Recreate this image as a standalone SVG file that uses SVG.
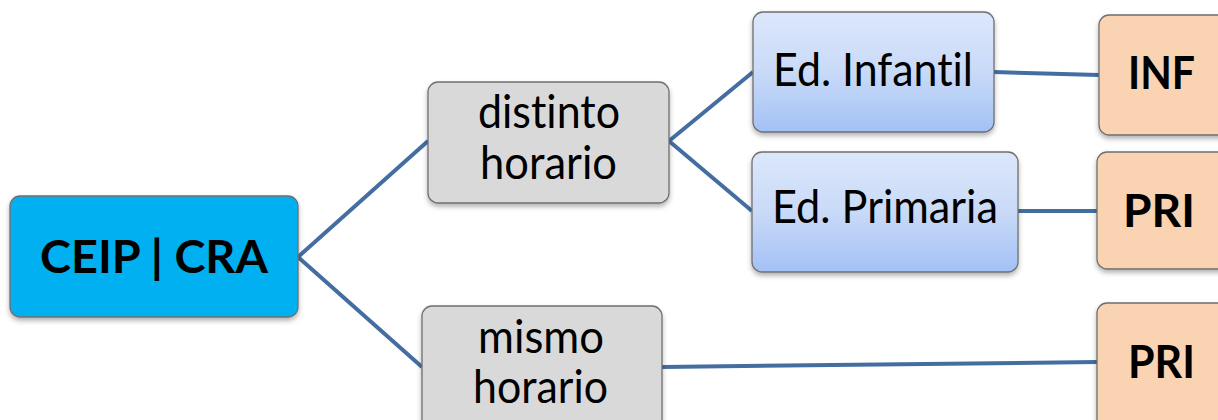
<svg xmlns="http://www.w3.org/2000/svg" width="1218" height="420" viewBox="0 0 1218 420">
<defs>
<linearGradient id="gBlue" x1="0" y1="0" x2="0" y2="1">
<stop offset="0" stop-color="#DCE7FB"/>
<stop offset="0.5" stop-color="#C9DAF8"/>
<stop offset="1" stop-color="#A3C1F5"/>
</linearGradient>
<filter id="sh" x="-10%" y="-10%" width="120%" height="130%">
<feDropShadow dx="0" dy="3" stdDeviation="2.5" flood-color="#000" flood-opacity="0.3"/>
</filter>
</defs>
<style>
.box{stroke:#6F6F6F;stroke-width:1.3;filter:url(#sh)}
.main{fill:#00B0F0}
.grey{fill:#D9D9D9}
.blue{fill:url(#gBlue)}
.orange{fill:#FAD3B2}
.t{font-family:Lato,"Open Sans","Liberation Sans",sans-serif;font-size:46px;fill:#000;text-anchor:middle;font-variant-ligatures:none;font-feature-settings:"liga" 0,"clig" 0}
.b{font-weight:bold}
.con{stroke:#446DA2;stroke-width:4;fill:none;stroke-linecap:butt}
</style>
<rect width="1218" height="420" fill="#FFFFFF"/>
<g id="connectors">
<line class="con" x1="298" y1="257" x2="428" y2="141"/>
<line class="con" x1="298" y1="257" x2="422" y2="367"/>
<line class="con" x1="669" y1="141" x2="753" y2="72"/>
<line class="con" x1="669" y1="141" x2="752" y2="211"/>
<line class="con" x1="994" y1="72" x2="1099" y2="75"/>
<line class="con" x1="1018" y1="211" x2="1097" y2="211"/>
<line class="con" x1="662" y1="367" x2="1097" y2="362"/>
</g>
<g id="ceip">
<rect class="box main" x="10" y="196" width="288" height="121" rx="10"/>
<text class="t b" x="154" y="273" textLength="228" lengthAdjust="spacingAndGlyphs">CEIP | CRA</text>
</g>
<g id="distinto">
<rect class="box grey" x="428" y="82" width="241" height="121" rx="10"/>
<text class="t" x="549" y="128" textLength="142" lengthAdjust="spacingAndGlyphs">distinto</text>
<text class="t" x="548.5" y="179" textLength="137" lengthAdjust="spacingAndGlyphs">horario</text>
</g>
<g id="mismo">
<rect class="box grey" x="422" y="306" width="240" height="125" rx="10"/>
<text class="t" x="541" y="353" textLength="126" lengthAdjust="spacingAndGlyphs">mismo</text>
<text class="t" x="540.5" y="403" textLength="135" lengthAdjust="spacingAndGlyphs">horario</text>
</g>
<g id="infantil">
<rect class="box blue" x="753" y="12" width="241" height="120" rx="10"/>
<text class="t" x="873" y="86" textLength="200" lengthAdjust="spacingAndGlyphs">Ed. Infantil</text>
</g>
<g id="primaria">
<rect class="box blue" x="752" y="152" width="266" height="120" rx="10"/>
<text class="t" x="885" y="223" textLength="226" lengthAdjust="spacingAndGlyphs">Ed. Primaria</text>
</g>
<g id="inf">
<rect class="box orange" x="1099" y="15" width="140" height="120" rx="10"/>
<text class="t b" x="1161.5" y="89" textLength="67" lengthAdjust="spacingAndGlyphs">INF</text>
</g>
<g id="pri1">
<rect class="box orange" x="1097" y="152" width="140" height="117" rx="10"/>
<text class="t b" x="1159" y="227" textLength="72" lengthAdjust="spacingAndGlyphs">PRI</text>
</g>
<g id="pri2">
<rect class="box orange" x="1097" y="303" width="140" height="130" rx="10"/>
<text class="t b" x="1161.5" y="378" textLength="67" lengthAdjust="spacingAndGlyphs">PRI</text>
</g>
</svg>
